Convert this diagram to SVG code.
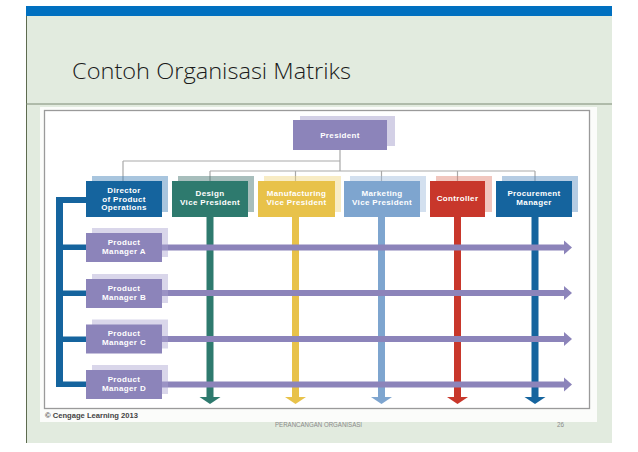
<svg xmlns="http://www.w3.org/2000/svg" width="638" height="452" viewBox="0 0 638 452">
<defs>
<style>
.lbl{font-family:"Liberation Sans",Arial,sans-serif;font-weight:bold;font-size:8px;fill:#fff;text-anchor:middle;letter-spacing:0.35px}
.conn{stroke:#a9a9a9;stroke-width:1.2;fill:none}
.sh{opacity:0.45}
</style>
</defs>
<rect width="638" height="452" fill="#fff"/>
<rect x="26" y="16" width="586" height="427" fill="#e2ebdf"/>
<rect x="26" y="6" width="586" height="10" fill="#0070c0"/>
<line x1="26.5" y1="16" x2="26.5" y2="443" stroke="#5d6b4f" stroke-width="1"/>
<line x1="26" y1="104" x2="612" y2="104" stroke="#7d8a75" stroke-width="1"/>
<text x="72" y="79" font-family="'Open Sans','Noto Sans',sans-serif" font-weight="300" font-size="22" fill="#1a1a1a" textLength="279" lengthAdjust="spacingAndGlyphs">Contoh Organisasi Matriks</text>

<rect x="40" y="107" width="557" height="315" fill="#fbfcfa"/>
<rect x="44.5" y="110.5" width="545" height="298" fill="#fff" stroke="#9a9a9a" stroke-width="1.3"/>

<g id="connectors">
<path class="conn" d="M340 150V171M123 161H340M123 161V181M210 171H535M210 171V181M295.5 171V181M381.5 171V181M457.5 171V181M535 171V181"/>
<g fill="#2e7a6e"><rect x="206.5" y="217" width="7" height="181"/><polygon points="199.5,397 220.5,397 210,404"/></g>
<g fill="#e8c24a"><rect x="292" y="217" width="7" height="181"/><polygon points="285,397 306,397 295.5,404"/></g>
<g fill="#7ea5cf"><rect x="378" y="217" width="7" height="181"/><polygon points="371,397 392,397 381.5,404"/></g>
<g fill="#c8372b"><rect x="454" y="217" width="7" height="181"/><polygon points="447,397 468,397 457.5,404"/></g>
<g fill="#15649e"><rect x="531.5" y="217" width="7" height="181"/><polygon points="524.5,397 545.5,397 535,404"/></g>
<g fill="#15649e">
<rect x="56" y="197" width="7" height="190"/>
<rect x="56" y="197" width="30" height="6"/>
<rect x="56" y="244.5" width="30" height="5.5"/>
<rect x="56" y="290.5" width="30" height="5.5"/>
<rect x="56" y="336.5" width="30" height="5.5"/>
<rect x="56" y="381.5" width="30" height="5.5"/>
</g>
<g fill="#8c84ba">
<rect x="162" y="244.5" width="403" height="6"/><polygon points="564,240.5 572,247.5 564,254.5"/>
<rect x="162" y="290" width="403" height="6"/><polygon points="564,286 572,293 564,300"/>
<rect x="162" y="336" width="403" height="6"/><polygon points="564,332 572,339 564,346"/>
<rect x="162" y="381.5" width="403" height="6"/><polygon points="564,377.5 572,384.5 564,391.5"/>
</g>
</g>

<g id="president">
<rect class="sh" x="300" y="116" width="95" height="30" fill="#9d96c8"/>
<rect x="293" y="120" width="94" height="30" fill="#8c84ba"/>
<text class="lbl" x="340" y="137.5">President</text>
</g>
<g id="director">
<rect class="sh" x="92" y="176" width="76" height="36" fill="#3f7fb5"/>
<rect x="86" y="181" width="76" height="36" fill="#15649e"/>
<text class="lbl" x="124" y="193">Director</text>
<text class="lbl" x="124" y="201.5">of Product</text>
<text class="lbl" x="124" y="210">Operations</text>
</g>
<g id="design">
<rect class="sh" x="178" y="176" width="76" height="36" fill="#3b6f6a"/>
<rect x="172" y="181" width="76" height="36" fill="#2e7a6e"/>
<text class="lbl" x="210" y="196">Design</text>
<text class="lbl" x="210" y="204.5">Vice President</text>
</g>
<g id="manufacturing">
<rect class="sh" x="264" y="176" width="77" height="36" fill="#f0d57e"/>
<rect x="258" y="181" width="77" height="36" fill="#e8c24a"/>
<text class="lbl" x="296.5" y="196">Manufacturing</text>
<text class="lbl" x="296.5" y="204.5">Vice President</text>
</g>
<g id="marketing">
<rect class="sh" x="350" y="176" width="76" height="36" fill="#9dbbdc"/>
<rect x="344" y="181" width="76" height="36" fill="#7ea5cf"/>
<text class="lbl" x="382" y="196">Marketing</text>
<text class="lbl" x="382" y="204.5">Vice President</text>
</g>
<g id="controller">
<rect class="sh" x="436" y="176" width="56" height="36" fill="#e0806f"/>
<rect x="430" y="181" width="55" height="36" fill="#c8372b"/>
<text class="lbl" x="457.5" y="201">Controller</text>
</g>
<g id="procurement">
<rect class="sh" x="502" y="176" width="76" height="36" fill="#5c8fc0"/>
<rect x="496" y="181" width="76" height="36" fill="#15649e"/>
<text class="lbl" x="534" y="196">Procurement</text>
<text class="lbl" x="534" y="204.5">Manager</text>
</g>
<g id="pm-a">
<rect class="sh" x="92" y="228" width="76" height="29" fill="#aaa4d0"/>
<rect x="86" y="233" width="76" height="29" fill="#8c84ba"/>
<text class="lbl" x="124" y="244.5">Product</text>
<text class="lbl" x="124" y="253.5">Manager A</text>
</g>
<g id="pm-b">
<rect class="sh" x="92" y="274" width="76" height="29" fill="#aaa4d0"/>
<rect x="86" y="279" width="76" height="29" fill="#8c84ba"/>
<text class="lbl" x="124" y="290.5">Product</text>
<text class="lbl" x="124" y="299.5">Manager B</text>
</g>
<g id="pm-c">
<rect class="sh" x="92" y="319.5" width="76" height="29" fill="#aaa4d0"/>
<rect x="86" y="324.5" width="76" height="29" fill="#8c84ba"/>
<text class="lbl" x="124" y="336">Product</text>
<text class="lbl" x="124" y="345">Manager C</text>
</g>
<g id="pm-d">
<rect class="sh" x="92" y="365" width="76" height="29" fill="#aaa4d0"/>
<rect x="86" y="370" width="76" height="29" fill="#8c84ba"/>
<text class="lbl" x="124" y="381.5">Product</text>
<text class="lbl" x="124" y="390.5">Manager D</text>
</g>

<text x="45" y="417.5" font-family="'Liberation Sans',Arial,sans-serif" font-weight="bold" font-size="6.5" fill="#444" textLength="93" lengthAdjust="spacingAndGlyphs">© Cengage Learning 2013</text>
<text x="275" y="426.5" font-family="'Liberation Sans',Arial,sans-serif" font-size="6.3" fill="#8a8a8a" textLength="87" lengthAdjust="spacingAndGlyphs">PERANCANGAN ORGANISASI</text>
<text x="557" y="426.5" font-family="'Liberation Sans',Arial,sans-serif" font-size="6.3" fill="#8a8a8a">26</text>
</svg>
